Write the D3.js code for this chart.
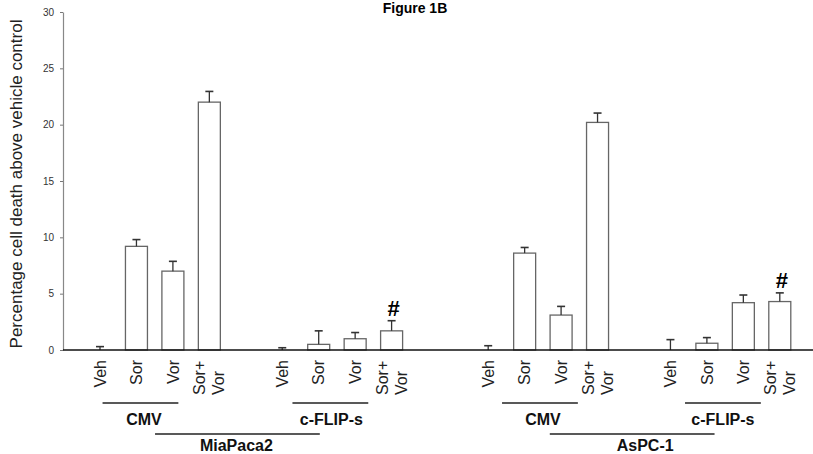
<!DOCTYPE html>
<html>
<head>
<meta charset="utf-8">
<script src="https://cdn.jsdelivr.net/npm/d3@7/dist/d3.min.js"></script>
<style>
  body { margin: 0; background: #fff; }
  svg { display: block; font-family: "Liberation Sans", Arial, sans-serif; }
</style>
</head>
<body>
<div id="chart"></div>
<script>
// data
var cellLines = ["MiaPaca2", "AsPC-1"];
var vectors = ["CMV", "c-FLIP-s"];
var treatments = ["Veh", "Sor", "Vor", "Sor+|Vor"];
var yTicks = [0, 5, 10, 15, 20, 25, 30];

var miaCMV = [0, 9.2, 7.0, 22.0];
var miaCMVErr = [0.3, 0.6, 0.87, 0.95];
var miaFlip = [0, 0.5, 1.0, 1.7];
var miaFlipErr = [0.2, 1.2, 0.55, 0.9];
var aspCMV = [0, 8.6, 3.1, 20.2];
var aspCMVErr = [0.38, 0.5, 0.77, 0.83];
var aspFlip = [0, 0.6, 4.2, 4.3];
var aspFlipErr = [0.92, 0.5, 0.68, 0.77];

// "#" marks (cell line, vector, treatment)
var hashMarks = [[0, 1, 3], [1, 1, 3]];

var means = [[miaCMV, miaFlip], [aspCMV, aspFlip]];
var errs = [[miaCMVErr, miaFlipErr], [aspCMVErr, aspFlipErr]];

// layout
var width = 813, height = 454;
var barWidth = 22;
var lineSlotOffset = 10.65; // slots between the two cell lines
var vectorSlotOffset = 5;   // slots between CMV and c-FLIP-s
var baseY = 350;

var rows = [];
cellLines.forEach(function (cl, l) {
    vectors.forEach(function (v, g) {
        treatments.forEach(function (t, i) {
            rows.push({
                line: l, vec: g, treat: i, label: t,
                value: means[l][g][i], err: errs[l][g][i],
                slot: l * lineSlotOffset + g * vectorSlotOffset + i
            });
        });
    });
});

var y = d3.scaleLinear().domain([0, 30]).range([baseY, 12]);
var x = d3.scaleLinear().domain([0, 1]).range([100, 136.45]);

var svg = d3.select("#chart").append("svg")
    .attr("width", width)
    .attr("height", height);

// title (sits at the very top like the original)
svg.append("text")
    .attr("x", 415).attr("y", 13)
    .attr("text-anchor", "middle")
    .style("font-weight", "bold")
    .style("font-size", "14px")
    .text("Figure 1B");

// y axis
var yAxis = d3.axisLeft(y).tickValues(yTicks).tickSize(3).tickSizeOuter(0).tickPadding(6);
var gy = svg.append("g").attr("transform", "translate(63,0)").call(yAxis);
gy.select(".domain").attr("stroke", "#888").attr("stroke-width", 1.2);
gy.selectAll(".tick line").attr("stroke", "#777");
gy.selectAll(".tick text")
    .style("font-size", "10px")
    .style("font-family", "'Liberation Sans Narrow', 'Liberation Sans', Arial, sans-serif")
    .attr("fill", "#333");

svg.append("text")
    .attr("transform", "translate(22," + 184 + ") rotate(-90)")
    .attr("text-anchor", "middle")
    .style("font-size", "17px")
    .attr("fill", "#222")
    .text("Percentage cell death above vehicle control");

// bars
svg.append("g").selectAll("rect").data(rows).enter().append("rect")
    .attr("x", function (d) { return x(d.slot) - barWidth / 2; })
    .attr("y", function (d) { return y(d.value); })
    .attr("width", barWidth)
    .attr("height", function (d) { return y(0) - y(d.value); })
    .attr("fill", "#fff")
    .attr("stroke", "#666")
    .attr("stroke-width", 1.3);

// error bars
var eb = svg.append("g").attr("stroke", "#333").attr("stroke-width", 1.3);
eb.selectAll("line.v").data(rows).enter().append("line")
    .attr("class", "v")
    .attr("x1", function (d) { return x(d.slot); })
    .attr("x2", function (d) { return x(d.slot); })
    .attr("y1", function (d) { return y(d.value); })
    .attr("y2", function (d) { return y(d.value + d.err); });
eb.selectAll("line.cap").data(rows).enter().append("line")
    .attr("class", "cap")
    .attr("x1", function (d) { return x(d.slot) - 4; })
    .attr("x2", function (d) { return x(d.slot) + 4; })
    .attr("y1", function (d) { return y(d.value + d.err); })
    .attr("y2", function (d) { return y(d.value + d.err); })
    .attr("stroke-width", 1.6);

// baseline
svg.append("line")
    .attr("x1", 63).attr("x2", width)
    .attr("y1", y(0)).attr("y2", y(0))
    .attr("stroke", "#111").attr("stroke-width", 1.5);

// # marks
hashMarks.forEach(function (h) {
    var d = rows.filter(function (r) { return r.line === h[0] && r.vec === h[1] && r.treat === h[2]; })[0];
    svg.append("text")
        .attr("x", x(d.slot) + 2)
        .attr("y", y(d.value + d.err) - 5)
        .attr("text-anchor", "middle")
        .style("font-weight", "bold")
        .style("font-size", "22px")
        .text("#");
});

// treatment labels (rotated)
var labs = svg.append("g").style("font-size", "16px").attr("fill", "#222");
rows.forEach(function (d) {
    var parts = d.label.split("|");
    if (parts.length === 1) {
        labs.append("text")
            .attr("transform", "translate(" + x(d.slot) + ",360) rotate(-90)")
            .attr("text-anchor", "end")
            .attr("dy", "0.35em")
            .text(parts[0]);
    } else {
        var t = labs.append("text")
            .attr("transform", "translate(" + x(d.slot) + ",395) rotate(-90)")
            .attr("text-anchor", "start");
        parts.forEach(function (p, k) {
            t.append("tspan")
                .attr("x", 0)
                .attr("y", (k === 0 ? -9.5 : 9.5))
                .attr("dy", "0.35em")
                .text(p);
        });
    }
});

// group underlines and names
var subLineStart = [[0.07, 0.28], [0.38, 0.4]]; // slot offsets of the vector lines
var subLen = 2.08;
var subTextShift = [[3.5, 1], [3, 0]];
var lineStart = [1.51, 1.69];
var lineLen = 4.52;
var lineTextShift = [-1, 13];

var grp = svg.append("g");
cellLines.forEach(function (cl, l) {
    var base = l * lineSlotOffset;
    vectors.forEach(function (v, g) {
        var s = base + g * vectorSlotOffset + subLineStart[l][g];
        grp.append("line")
            .attr("x1", x(s)).attr("x2", x(s + subLen))
            .attr("y1", 403).attr("y2", 403)
            .attr("stroke", "#222").attr("stroke-width", 1.3);
        grp.append("text")
            .attr("x", (x(s) + x(s + subLen)) / 2 + subTextShift[l][g])
            .attr("y", 424.5)
            .attr("text-anchor", "middle")
            .style("font-weight", "bold")
            .style("font-size", "16px")
            .attr("fill", "#111")
            .text(v);
    });
    var s2 = base + lineStart[l];
    grp.append("line")
        .attr("x1", x(s2)).attr("x2", x(s2 + lineLen))
        .attr("y1", 434).attr("y2", 434)
        .attr("stroke", "#222").attr("stroke-width", 1.3);
    grp.append("text")
        .attr("x", (x(s2) + x(s2 + lineLen)) / 2 + lineTextShift[l])
        .attr("y", 451)
        .attr("text-anchor", "middle")
        .style("font-weight", "bold")
        .style("font-size", "16px")
        .attr("fill", "#111")
        .text(cl);
});
</script>
</body>
</html>
